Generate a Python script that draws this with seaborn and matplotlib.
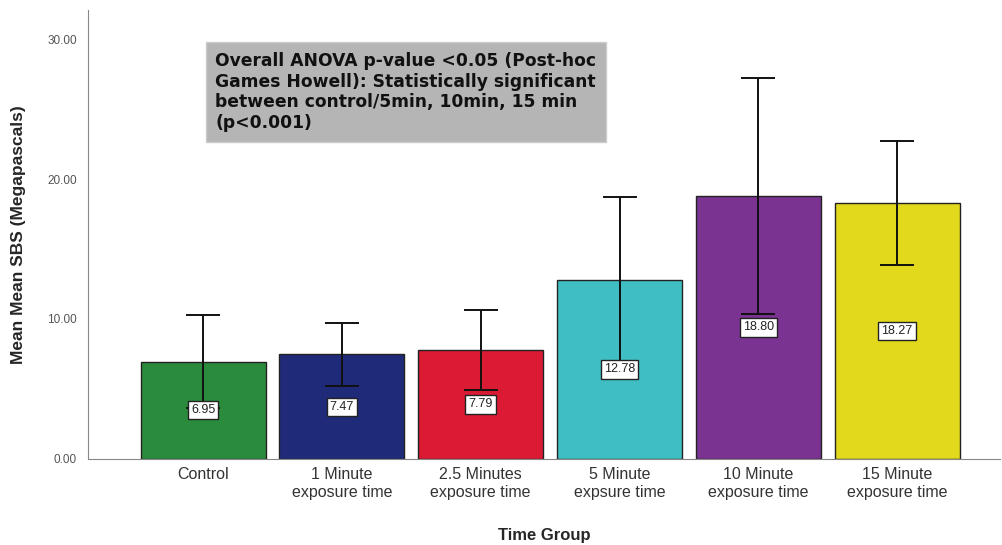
import matplotlib
matplotlib.use("Agg")
import matplotlib.pyplot as plt
import seaborn as sn
import pandas as pd

groups = ["Control", "1 Minute\nexposure time", "2.5 Minutes\nexposure time",
          "5 Minute\nexpsure time", "10 Minute\nexposure time", "15 Minute\nexposure time"]
mean_sbs = [6.95, 7.47, 7.79, 12.78, 18.80, 18.27]
err_sbs = [3.30, 2.25, 2.85, 5.95, 8.42, 4.44]
bar_colors = ["#2b8b3d", "#1f2b78", "#db1a33", "#3fbfc3", "#7a3391", "#e2d81c"]

df = pd.DataFrame({"group": groups, "mean": mean_sbs, "err": err_sbs})

sn.set_style("white")
plt.rcParams["font.family"] = ["Liberation Sans", "DejaVu Sans"]

fig = plt.figure(figsize=(10.02, 5.45), dpi=100)
ax = fig.add_axes([0.0878, 0.158, 0.91, 0.824])

sn.barplot(data=df, x="group", y="mean", hue="group", palette=bar_colors,
           errorbar=None, width=0.9, edgecolor="#222222", linewidth=1.0,
           saturation=1, legend=False, ax=ax)
ax.errorbar(range(len(groups)), df["mean"], yerr=df["err"], fmt="none",
            ecolor="#111111", elinewidth=1.4, capsize=12, capthick=1.4)

# value labels in the middle of each bar
for i, v in enumerate(mean_sbs):
    ax.text(i, v / 2, f"{v:.2f}", ha="center", va="center", fontsize=9,
            color="#222222",
            bbox=dict(boxstyle="square,pad=0.25", fc="white", ec="#222222", lw=1))

ax.set_xlim(-0.83, 5.74)
ax.set_ylim(0, 32.1)
ax.set_yticks([0, 10, 20, 30])
ax.set_yticklabels([f"{t:.2f}" for t in [0, 10, 20, 30]], fontsize=8.5, color="#555555")
ax.tick_params(axis="y", length=0, pad=8)
ax.tick_params(axis="x", length=0, pad=6)
for lab in ax.get_xticklabels():
    lab.set_fontsize(11.5)
    lab.set_color("#333333")
    lab.set_linespacing(1.25)

for s in ["top", "right"]:
    ax.spines[s].set_visible(False)
ax.spines["left"].set_color("#888888")
ax.spines["bottom"].set_color("#888888")

ax.set_ylabel("Mean Mean SBS (Megapascals)", fontsize=12.5, fontweight="bold", labelpad=15)
ax.set_xlabel("Time Group", fontsize=12, fontweight="bold", labelpad=20)

fig.text(0.215, 0.905,
         "Overall ANOVA p-value <0.05 (Post-hoc\nGames Howell): Statistically significant\n"
         "between control/5min, 10min, 15 min\n(p<0.001)",
         fontsize=12.3, fontweight="bold", va="top", ha="left", linespacing=1.2,
         family=["DejaVu Sans"], color="#111111",
         bbox=dict(boxstyle="square,pad=0.55", fc="#b5b5b5", ec="#cccccc", lw=1))

fig.savefig("out.png", dpi=100)
